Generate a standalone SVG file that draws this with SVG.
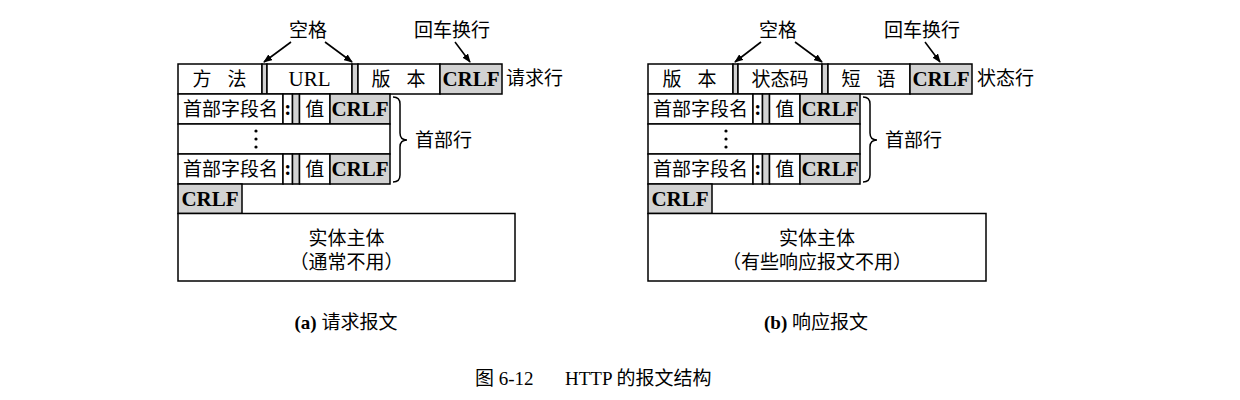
<svg xmlns="http://www.w3.org/2000/svg" width="1240" height="400" viewBox="0 0 1240 400">
<style>
.box{fill:#fff;stroke:#000;stroke-width:1.5}
.gray{fill:#d2d2d2;stroke:#000;stroke-width:1.5}
.cjk{font-family:"Liberation Serif","Noto Sans CJK SC",serif;font-size:19px;fill:#000;dominant-baseline:central;text-anchor:middle}
.lbl{font-family:"Liberation Serif","Noto Sans CJK SC",serif;font-size:19px;fill:#000;dominant-baseline:central}
.crlf{font-family:"Liberation Serif",serif;font-weight:bold;font-size:21px;fill:#000;dominant-baseline:central;text-anchor:middle}
.rom{font-family:"Liberation Serif",serif;font-size:21px;fill:#000;dominant-baseline:central;text-anchor:middle}
.line{stroke:#000;stroke-width:1.6;fill:none}
.brace{stroke:#000;stroke-width:1.5;fill:none}
</style>
<defs>
<marker id="ah" markerWidth="9" markerHeight="7" refX="8" refY="3.5" orient="auto" markerUnits="userSpaceOnUse">
<path d="M0,0 L9,3.5 L0,7 z" fill="#000"/>
</marker>
</defs>

<!-- Left figure: request -->
<g id="req-line">
<rect class="box" x="178" y="64" width="84" height="30"/>
<text class="cjk" x="202" y="79">方</text>
<text class="cjk" x="237" y="79">法</text>
<rect class="gray" x="262" y="64" width="5" height="30"/>
<rect class="box" x="267" y="64" width="85" height="30"/>
<text class="rom" x="309.5" y="79">URL</text>
<rect class="gray" x="352" y="64" width="6" height="30"/>
<rect class="box" x="358" y="64" width="82" height="30"/>
<text class="cjk" x="381" y="79">版</text>
<text class="cjk" x="416" y="79">本</text>
<rect class="gray" x="440" y="64" width="62" height="30"/>
<text class="crlf" x="471" y="79">CRLF</text>
<text class="lbl" x="506" y="78">请求行</text>
</g>
<g id="req-header1">
<rect class="box" x="178" y="94" width="105" height="30"/>
<text class="cjk" x="230.5" y="109">首部字段名</text>
<rect class="box" x="283" y="94" width="9.5" height="30"/>
<text class="crlf" x="287.75" y="108">:</text>
<rect class="gray" x="292.5" y="94" width="7" height="30"/>
<rect class="box" x="299.5" y="94" width="30.5" height="30"/>
<text class="cjk" x="314.75" y="109">值</text>
<rect class="gray" x="330" y="94" width="60" height="30"/>
<text class="crlf" x="360" y="109">CRLF</text>
</g>
<g id="req-dots">
<rect class="box" x="178" y="124" width="212" height="30"/>
<circle cx="256" cy="131" r="1.6" fill="#000"/>
<circle cx="256" cy="139" r="1.6" fill="#000"/>
<circle cx="256" cy="147" r="1.6" fill="#000"/>
</g>
<g id="req-header2">
<rect class="box" x="178" y="154" width="105" height="30"/>
<text class="cjk" x="230.5" y="169">首部字段名</text>
<rect class="box" x="283" y="154" width="9.5" height="30"/>
<text class="crlf" x="287.75" y="168">:</text>
<rect class="gray" x="292.5" y="154" width="7" height="30"/>
<rect class="box" x="299.5" y="154" width="30.5" height="30"/>
<text class="cjk" x="314.75" y="169">值</text>
<rect class="gray" x="330" y="154" width="60" height="30"/>
<text class="crlf" x="360" y="169">CRLF</text>
</g>
<g id="req-crlf">
<rect class="gray" x="178" y="184" width="64" height="29.5"/>
<text class="crlf" x="210" y="199">CRLF</text>
</g>
<g id="req-body">
<rect class="box" x="178" y="213.5" width="337" height="67.5"/>
<text class="cjk" x="346.5" y="238">实体主体</text>
<text class="cjk" x="346.5" y="262">（通常不用）</text>
</g>
<g id="req-labels">
<text class="cjk" x="308" y="30">空格</text>
<text class="cjk" x="452" y="30">回车换行</text>
<text class="lbl" x="415" y="140">首部行</text>
<text class="cjk" x="346" y="322"><tspan font-weight="bold">(a)</tspan> 请求报文</text>
</g>

<!-- Right figure: response -->
<g id="resp-line">
<rect class="box" x="648" y="64" width="85" height="30"/>
<text class="cjk" x="672" y="79">版</text>
<text class="cjk" x="707" y="79">本</text>
<rect class="gray" x="733" y="64" width="5" height="30"/>
<rect class="box" x="738" y="64" width="84" height="30"/>
<text class="cjk" x="780" y="79">状态码</text>
<rect class="gray" x="822" y="64" width="6" height="30"/>
<rect class="box" x="828" y="64" width="82" height="30"/>
<text class="cjk" x="851" y="79">短</text>
<text class="cjk" x="886" y="79">语</text>
<rect class="gray" x="910" y="64" width="62" height="30"/>
<text class="crlf" x="941" y="79">CRLF</text>
<text class="lbl" x="977" y="78">状态行</text>
</g>
<g id="resp-header1">
<rect class="box" x="648" y="94" width="105" height="30"/>
<text class="cjk" x="700.5" y="109">首部字段名</text>
<rect class="box" x="753" y="94" width="9.5" height="30"/>
<text class="crlf" x="757.75" y="108">:</text>
<rect class="gray" x="762.5" y="94" width="7" height="30"/>
<rect class="box" x="769.5" y="94" width="30.5" height="30"/>
<text class="cjk" x="784.75" y="109">值</text>
<rect class="gray" x="800" y="94" width="60" height="30"/>
<text class="crlf" x="830" y="109">CRLF</text>
</g>
<g id="resp-dots">
<rect class="box" x="648" y="124" width="212" height="30"/>
<circle cx="726" cy="131" r="1.6" fill="#000"/>
<circle cx="726" cy="139" r="1.6" fill="#000"/>
<circle cx="726" cy="147" r="1.6" fill="#000"/>
</g>
<g id="resp-header2">
<rect class="box" x="648" y="154" width="105" height="30"/>
<text class="cjk" x="700.5" y="169">首部字段名</text>
<rect class="box" x="753" y="154" width="9.5" height="30"/>
<text class="crlf" x="757.75" y="168">:</text>
<rect class="gray" x="762.5" y="154" width="7" height="30"/>
<rect class="box" x="769.5" y="154" width="30.5" height="30"/>
<text class="cjk" x="784.75" y="169">值</text>
<rect class="gray" x="800" y="154" width="60" height="30"/>
<text class="crlf" x="830" y="169">CRLF</text>
</g>
<g id="resp-crlf">
<rect class="gray" x="648" y="184" width="64" height="29.5"/>
<text class="crlf" x="680" y="199">CRLF</text>
</g>
<g id="resp-body">
<rect class="box" x="648" y="213.5" width="338" height="67.5"/>
<text class="cjk" x="817" y="238">实体主体</text>
<text class="cjk" x="817" y="262">（有些响应报文不用）</text>
</g>
<g id="resp-labels">
<text class="cjk" x="778" y="30">空格</text>
<text class="cjk" x="922" y="30">回车换行</text>
<text class="lbl" x="885" y="140">首部行</text>
<text class="cjk" x="816" y="322"><tspan font-weight="bold">(b)</tspan> 响应报文</text>
</g>

<g id="connectors">
<line class="line" x1="291" y1="42" x2="264" y2="62" marker-end="url(#ah)"/>
<line class="line" x1="325" y1="42" x2="352" y2="62" marker-end="url(#ah)"/>
<line class="line" x1="455" y1="42" x2="470" y2="62" marker-end="url(#ah)"/>
<path class="brace" d="M393,97 Q400,97 400,104 L400,133 Q400,140 407,140 Q400,140 400,147 L400,175 Q400,182 393,182"/>
<line class="line" x1="761" y1="42" x2="735" y2="62" marker-end="url(#ah)"/>
<line class="line" x1="795" y1="42" x2="822" y2="62" marker-end="url(#ah)"/>
<line class="line" x1="925" y1="42" x2="940" y2="62" marker-end="url(#ah)"/>
<path class="brace" d="M863,97 Q870,97 870,104 L870,133 Q870,140 877,140 Q870,140 870,147 L870,175 Q870,182 863,182"/>
</g>

<g id="caption">
<text class="lbl" x="475" y="378" font-size="21">图 6-12</text>
<text class="lbl" x="565" y="378" font-size="21">HTTP 的报文结构</text>
</g>
</svg>
